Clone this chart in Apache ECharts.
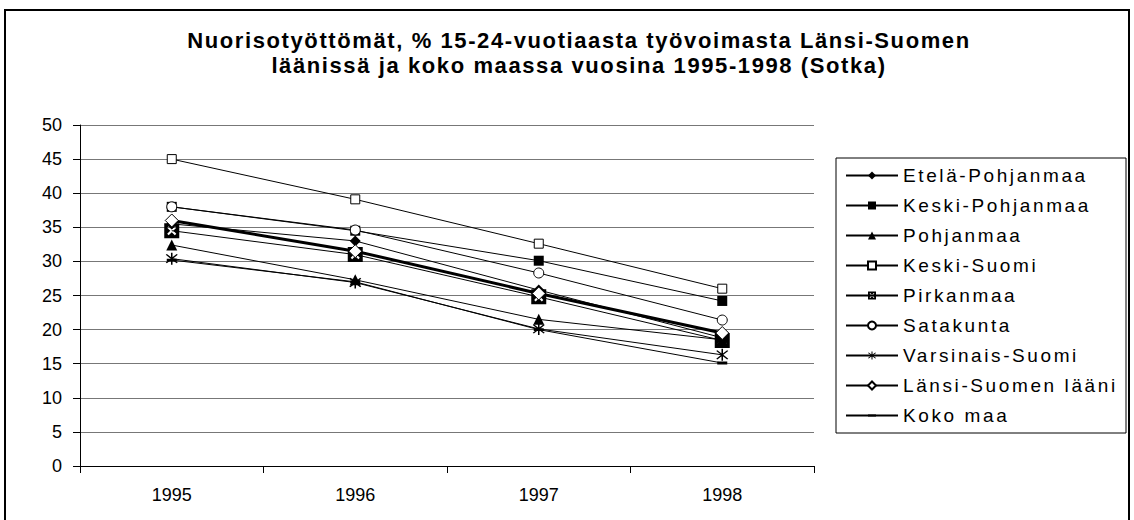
<!DOCTYPE html>
<html>
<head>
<meta charset="utf-8">
<script src="https://cdn.jsdelivr.net/npm/echarts@6/dist/echarts.min.js"></script>
<style>
html,body{margin:0;padding:0;background:#fff;}
#chart{width:1134px;height:520px;}
</style>
</head>
<body>
<div id="chart"></div>
<script>
const years = ['1995', '1996', '1997', '1998'];
const seriesNames = ['Etelä-Pohjanmaa', 'Keski-Pohjanmaa', 'Pohjanmaa', 'Keski-Suomi', 'Pirkanmaa', 'Satakunta', 'Varsinais-Suomi', 'Länsi-Suomen lääni', 'Koko maa'];
const etelaPohjanmaa = [35.5, 33.0, 25.8, 18.8];
const keskiPohjanmaa = [38.0, 34.5, 30.1, 24.2];
const pohjanmaa = [32.4, 27.3, 21.5, 18.5];
const keskiSuomi = [45.0, 39.1, 32.6, 26.0];
const pirkanmaa = [34.5, 31.0, 24.8, 18.4];
const satakunta = [38.0, 34.6, 28.3, 21.4];
const varsinaisSuomi = [30.4, 26.9, 20.1, 16.3];
const lansiSuomenLaani = [36.0, 31.5, 25.3, 19.5];
const kokoMaa = [30.2, 27.0, 20.0, 15.1];
const yTicks = [0, 5, 10, 15, 20, 25, 30, 35, 40, 45, 50];
const titleLines = ['Nuorisotyöttömät, % 15-24-vuotiaasta työvoimasta Länsi-Suomen', 'läänissä ja koko maassa vuosina 1995-1998 (Sotka)'];

const FONT = 'Liberation Sans, Arial, sans-serif';
const asteriskPath = 'path://M8.18 1.11L8.89 1.82L5.71 5L8.89 8.18L8.18 8.89L5 5.71L1.82 8.89L1.11 8.18L4.29 5L1.11 1.82L1.82 1.11L5 4.29ZM4.5 0L5.5 0L5.5 10L4.5 10Z';
const boxStarPath = 'path://M0 0L10 0L10 10L0 10ZM5 4.01L2.95 1.96L1.96 2.95L4.01 5L1.96 7.05L2.95 8.04L5 5.99L7.05 8.04L8.04 7.05L5.99 5L8.04 2.95L7.05 1.96Z';
const dashPath = 'path://M0 0L0.01 0L0 0.01ZM0 3.6L10 3.6L10 6.4L0 6.4ZM10 10L9.99 10L10 9.99Z';

const values = [etelaPohjanmaa, keskiPohjanmaa, pohjanmaa, keskiSuomi, pirkanmaa, satakunta, varsinaisSuomi, lansiSuomenLaani, kokoMaa];
const symbols = [
  {symbol: 'diamond', size: 11, fill: '#000'},
  {symbol: 'rect', size: 10, fill: '#000'},
  {symbol: 'triangle', size: 11, fill: '#000'},
  {symbol: 'rect', size: 9, fill: '#fff'},
  {symbol: boxStarPath, size: 15, fill: '#000'},
  {symbol: 'circle', size: 10, fill: '#fff'},
  {symbol: asteriskPath, size: 12, fill: '#000'},
  {symbol: 'diamond', size: 13, fill: '#fff'},
  {symbol: dashPath, size: 10, fill: '#000'}
];

const series = seriesNames.map((name, i) => ({
  name: name,
  type: 'line',
  data: values[i],
  symbol: symbols[i].symbol,
  symbolSize: symbols[i].size,
  showAllSymbol: true,
  animation: false,
  lineStyle: {color: '#000', width: name === 'Länsi-Suomen lääni' ? 3 : 1},
  itemStyle: {color: symbols[i].fill, borderColor: '#000', borderWidth: symbols[i].fill === '#fff' ? 1 : 0, opacity: 1}
}));

const chart = echarts.init(document.getElementById('chart'), null, {renderer: 'svg'});
chart.setOption({
  backgroundColor: '#fff',
  animation: false,
  title: {
    text: titleLines.join('\n'),
    left: 574, top: 23, textAlign: 'center',
    textStyle: {fontFamily: FONT, fontSize: 22, fontWeight: 'bold', color: '#000', lineHeight: 25}
  },
  graphic: [{
    type: 'rect', shape: {x: 5, y: 10, width: 1124, height: 530},
    style: {fill: 'none', stroke: '#000', lineWidth: 2}, silent: true
  }, {
    type: 'rect', shape: {x: 836, y: 158, width: 290, height: 275},
    style: {fill: 'none', stroke: '#000', lineWidth: 1}, silent: true
  }],
  legend: {
    orient: 'vertical', left: 840, top: 161,
    itemWidth: 52, itemHeight: 10, itemGap: 11,
    textStyle: {fontFamily: FONT, fontSize: 19, color: '#000'},
    data: seriesNames
  },
  grid: {left: 80, right: 320, top: 125, bottom: 54},
  xAxis: {
    type: 'category', data: years, boundaryGap: true,
    axisLine: {lineStyle: {color: '#000', width: 1}},
    axisTick: {show: true, length: 7, lineStyle: {color: '#000'}},
    axisLabel: {fontFamily: FONT, fontSize: 18, color: '#000', margin: 20}
  },
  yAxis: {
    type: 'value', min: 0, max: 50, interval: 5,
    axisLine: {show: true, lineStyle: {color: '#000', width: 1}},
    axisTick: {show: true, length: 7, lineStyle: {color: '#000'}},
    axisLabel: {fontFamily: FONT, fontSize: 18, color: '#000', margin: 18,
      formatter: v => yTicks.includes(v) ? String(v) : ''},
    splitLine: {show: true, lineStyle: {color: '#777', width: 1}}
  },
  series: series
});

function spaceTexts() {
  document.querySelectorAll('#chart svg text').forEach(t => {
    const s = t.textContent;
    if (titleLines.includes(s)) t.style.letterSpacing = '1.6px';
    else if (seriesNames.includes(s)) t.style.letterSpacing = '2.6px';
  });
}
spaceTexts();
chart.on('finished', spaceTexts);
</script>
</body>
</html>
